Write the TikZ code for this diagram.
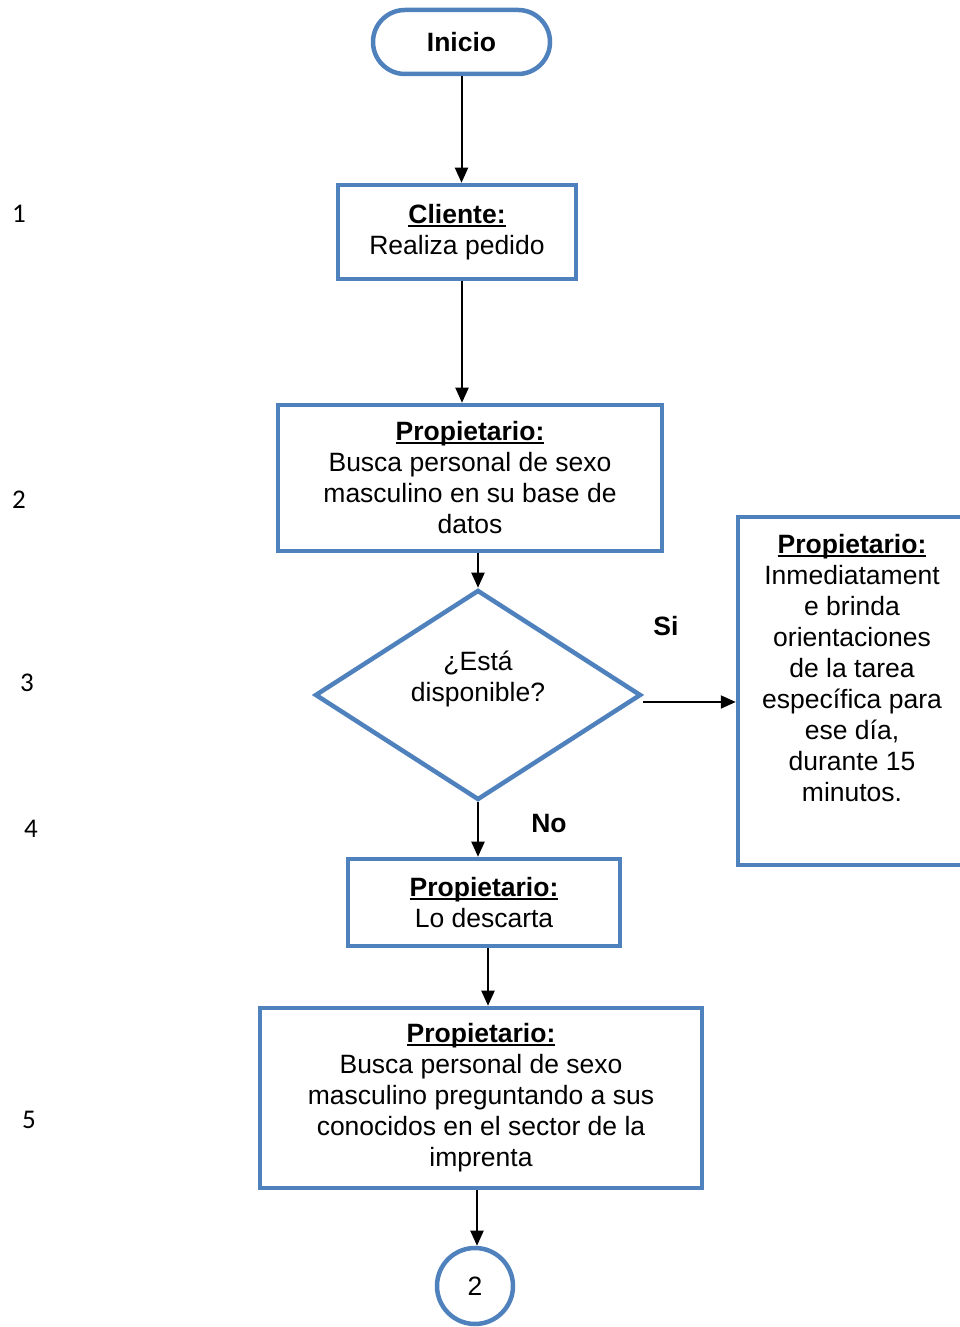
\documentclass[tikz,border=0pt]{standalone}
\usepackage{fontspec}
\setmainfont{Liberation Sans}
\newfontfamily\numfont{Carlito}
\usetikzlibrary{shapes.geometric,arrows.meta}
\definecolor{flowblue}{HTML}{4F81BD}
% bold heading with a heavy underline
\newcommand{\hdr}[1]{\textbf{\setbox0\hbox{#1}\rlap{\rule[-3.5pt]{\wd0}{2pt}}\box0}}
\tikzset{
  txt/.style={font=\fontsize{26.5}{31}\selectfont, align=center},
  procbox/.style={draw=flowblue, line width=4.5pt, rectangle, inner sep=0pt, txt},
  arr/.style={line width=2pt, -{Triangle[length=15pt,width=13pt]}},
  lbl/.style={font=\fontsize{26.5}{31}\selectfont\bfseries},
  stepnum/.style={font=\numfont\fontsize{27}{31}\selectfont}
}
\begin{document}
\begin{tikzpicture}[x=1pt,y=1pt]
\useasboundingbox (0,0) rectangle (959,1327);

% start terminal
\node[procbox, rounded corners=32pt, minimum width=177pt, minimum height=64pt] (ini) at (461.5,1285) {\textbf{Inicio}};

% process boxes
\node[procbox, minimum width=238pt, minimum height=94pt] (cli) at (457,1095)
  {\hdr{Cliente:}\\Realiza pedido};
\node[procbox, minimum width=384pt, minimum height=146pt] (b2) at (470,849)
  {\hdr{Propietario:}\\Busca personal de sexo\\masculino en su base de\\datos};

% decision
\node[draw=flowblue, line width=4.5pt, diamond, aspect=1.55, inner sep=0pt,
      minimum width=326pt, minimum height=210pt] (dia) at (478,632) {};
\node[txt, inner sep=0pt] (diatext) at (478,648) {¿Está\\disponible?};

% branch for a positive answer
\node[procbox, minimum width=230pt, minimum height=348pt] (rbox) at (853,636) {};
\node[txt, anchor=north, inner sep=0pt] (rtext) at (852,793)
  {\hdr{Propietario:}\\Inmediatament\\e brinda\\orientaciones\\de la tarea\\específica para\\ese día,\\durante 15\\minutos.};

\node[procbox, minimum width=272pt, minimum height=87pt] (b4) at (484,424.5)
  {\hdr{Propietario:}\\Lo descarta};
\node[procbox, minimum width=442pt, minimum height=180pt] (b5) at (481,229)
  {\hdr{Propietario:}\\Busca personal de sexo\\masculino preguntando a sus\\conocidos en el sector de la\\imprenta};

% off-page connector
\node[draw=flowblue, line width=4.5pt, circle, minimum size=76pt, inner sep=0pt, txt] (c2) at (475,41) {2};

% branch labels
\node[lbl] (si) at (666,701) {Si};
\node[lbl] (no) at (549,503) {No};

% step numbers
\node[stepnum] (n1) at (19,1113) {1};
\node[stepnum] (n2) at (19,827) {2};
\node[stepnum] (n3) at (27,644) {3};
\node[stepnum] (n4) at (31,498) {4};
\node[stepnum] (n5) at (29,207) {5};

% connectors
\draw[arr] (ini.south) -- (ini.south |- cli.north);
\draw[arr] ([xshift=5pt]cli.south) -- ([xshift=5pt]cli.south |- b2.north);
\draw[arr] (b2.south -| dia.north) -- (dia.north);
\draw[arr] ([yshift=-7pt]dia.east) -- ([yshift=-7pt]dia.east -| rbox.west);
\draw[arr] (dia.south) -- (dia.south |- b4.north);
\draw[arr] ([xshift=4pt]b4.south) -- ([xshift=4pt]b4.south |- b5.north);
\draw[arr] ([xshift=-4pt]b5.south) -- ([xshift=-4pt]b5.south |- c2.north);
\end{tikzpicture}
\end{document}
